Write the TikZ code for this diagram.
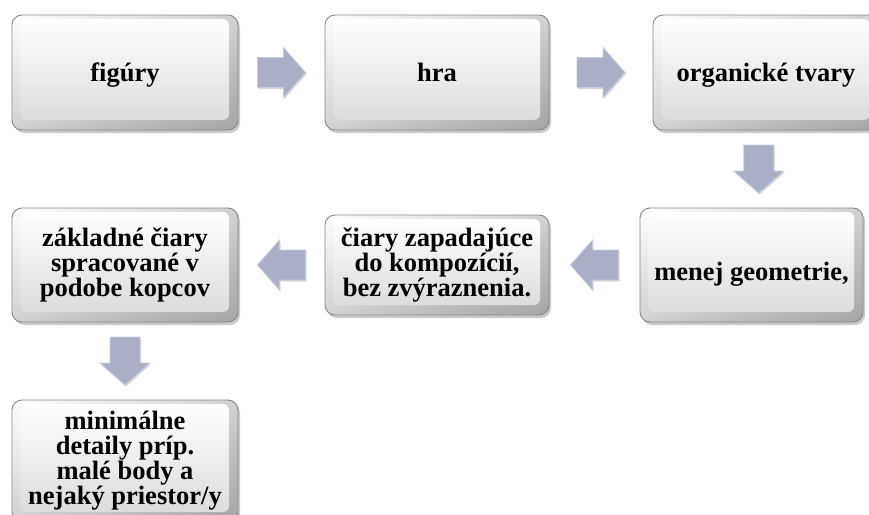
\documentclass[tikz,border=0pt]{standalone}
\usepackage{fontspec}
\setmainfont{Liberation Serif}
\usetikzlibrary{calc,shadows}

\definecolor{rimgray}{RGB}{135,135,135}
\definecolor{bevelgray}{RGB}{165,165,165}
\definecolor{facelow}{RGB}{220,220,220}
\definecolor{arrowfill}{RGB}{168,175,198}
\definecolor{arrowedge}{RGB}{198,203,218}

\tikzset{
  % bevelled, glossy rounded box
  bevelbox/.style={
    rounded corners=10pt, draw=rimgray, line width=0.9pt, inner sep=0pt,
    align=center, font=\fontsize{26.5}{24}\selectfont\bfseries,
    drop shadow={shadow xshift=2pt, shadow yshift=-3pt, opacity=0.35, fill=black!60},
    path picture={
      \shade[left color=white, right color=bevelgray]
        (path picture bounding box.south west) rectangle (path picture bounding box.north east);
      \shade[top color=white, bottom color=bevelgray, opacity=0.5]
        (path picture bounding box.south west) rectangle (path picture bounding box.north east);
      \shade[top color=white, bottom color=facelow, rounded corners=6pt]
        ($(path picture bounding box.north west)+(8pt,-4pt)$) rectangle
        ($(path picture bounding box.south east)+(-9pt,10pt)$);
    }
  },
  % single-line labels sit slightly below the middle
  oneline/.style={text height=22pt, text depth=4pt},
  % block arrow pointing along +x, centred on the origin
  blockarrow/.pic={
    \filldraw[fill=arrowfill, draw=arrowedge, line width=0.8pt,
      drop shadow={shadow xshift=1pt, shadow yshift=-1.5pt, opacity=0.25, fill=black!60}]
      (-24,-15) -- (2,-15) -- (2,-25) -- (24,0) -- (2,25) -- (2,15) -- (-24,15) -- cycle;
  }
}

\begin{document}
\begin{tikzpicture}[x=1pt, y=-1pt]
  \useasboundingbox (0,0) rectangle (869,514);
  \clip (0,0) rectangle (869,514);

  % first row
  \node[bevelbox, oneline, minimum width=226pt, minimum height=115pt] (b1) at (125,72.5) {figúry};
  \node[bevelbox, oneline, minimum width=224pt, minimum height=115pt] (b2) at (437,72.5) {hra};
  \node[bevelbox, oneline, minimum width=226pt, minimum height=115pt] (b3) at (766,72.5) {organické tvary};

  % second row
  \node[bevelbox, minimum width=223pt, minimum height=114pt, text height=30pt, text depth=0pt]
    (b4) at (751.5,265) {menej geometrie,};
  \node[bevelbox, minimum width=224pt, minimum height=100pt] (b5) at (437,265)
    {čiary zapadajúce\\ do kompozícií,\\ bez zvýraznenia.};
  \node[bevelbox, minimum width=226pt, minimum height=114pt] (b6) at (125,265)
    {základné čiary\\ spracované v\\ podobe kopcov};

  % third row
  \node[bevelbox, minimum width=226pt, minimum height=122pt, font=\fontsize{26.5}{25}\selectfont\bfseries] (b7) at (125,461)
    {minimálne\\ detaily príp.\\ malé body a\\ nejaký priestor/y};

  % arrows between the steps
  \pic at ($(b1.east)!0.5!(b2.west)$) {blockarrow};
  \pic at ($(b2.east)!0.5!(b3.west)$) {blockarrow};
  \pic[rotate=-90] at ($(b3.south)!0.5!(b4.north)$) {blockarrow};
  \pic[rotate=180] at ($(b4.west)!0.5!(b5.east)$) {blockarrow};
  \pic[rotate=180] at ($(b5.west)!0.5!(b6.east)$) {blockarrow};
  \pic[rotate=-90] at ($(b6.south)!0.5!(b7.north)$) {blockarrow};
\end{tikzpicture}
\end{document}
